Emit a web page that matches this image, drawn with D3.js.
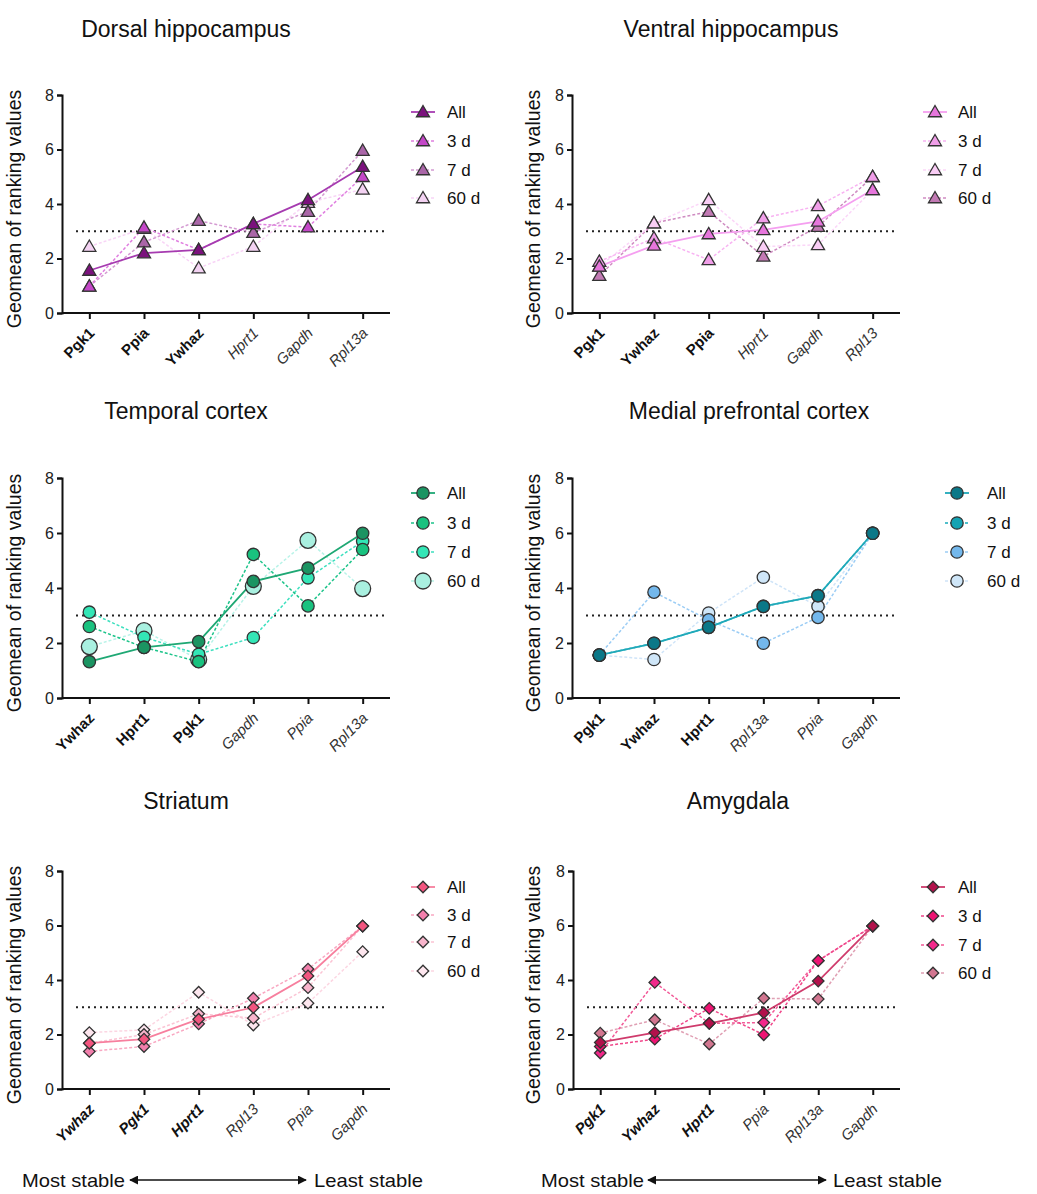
<!DOCTYPE html>
<html><head><meta charset="utf-8">
<script src="https://cdn.jsdelivr.net/npm/d3@7"></script>
<style>body{margin:0;background:#fff}svg{display:block;font-family:Arial,"Liberation Sans",sans-serif}</style>
</head><body>
<svg id="c" width="1037" height="1194"></svg>
<script>
// ---------- data ----------
const seriesNames = ["All", "3 d", "7 d", "60 d"];
const yTicks = [0, 2, 4, 6, 8];
const threshold = 3;

const dorsalCats = ["Pgk1", "Ppia", "Ywhaz", "Hprt1", "Gapdh", "Rpl13a"];
const dorsalAll = [1.56, 2.20, 2.32, 3.27, 4.15, 5.37];
const dorsal3d  = [0.98, 3.14, 2.32, 3.27, 3.15, 5.00];
const dorsal7d  = [0.98, 2.60, 3.39, 2.95, 3.72, 5.96];
const dorsal60d = [2.44, 3.10, 1.65, 2.44, 4.05, 4.54];

const ventralCats = ["Pgk1", "Ywhaz", "Ppia", "Hprt1", "Gapdh", "Rpl13"];
const ventralAll = [1.71, 2.48, 2.90, 3.05, 3.36, 4.52];
const ventral3d  = [1.89, 2.75, 1.95, 3.48, 3.93, 5.00];
const ventral7d  = [1.71, 3.30, 4.15, 2.44, 2.50, 4.52];
const ventral60d = [1.37, 3.30, 3.72, 2.08, 3.17, 5.00];

const temporalCats = ["Ywhaz", "Hprt1", "Pgk1", "Gapdh", "Ppia", "Rpl13a"];
const temporalAll = [1.32, 1.84, 2.05, 4.24, 4.72, 5.99];
const temporal3d  = [2.60, 1.84, 1.32, 5.22, 3.35, 5.40];
const temporal7d  = [3.12, 2.21, 1.59, 2.20, 4.37, 5.70];
const temporal60d = [1.87, 2.45, 1.40, 4.06, 5.73, 3.98];

const mpfcCats = ["Pgk1", "Ywhaz", "Hprt1", "Rpl13a", "Ppia", "Gapdh"];
const mpfcAll = [1.56, 1.99, 2.57, 3.33, 3.72, 5.99];
const mpfc3d  = [1.56, 1.99, 2.57, 3.33, 3.72, 5.99];
const mpfc7d  = [1.56, 3.85, 2.84, 1.99, 2.93, 5.99];
const mpfc60d = [1.56, 1.40, 3.09, 4.39, 3.33, 5.99];

const striatumCats = ["Ywhaz", "Pgk1", "Hprt1", "Rpl13", "Ppia", "Gapdh"];
const striatumAll = [1.68, 1.83, 2.56, 2.99, 4.15, 5.98];
const striatum3d  = [1.38, 1.56, 2.39, 3.33, 4.40, 5.98];
const striatum7d  = [1.68, 2.00, 2.76, 2.60, 3.72, 5.98];
const striatum60d = [2.07, 2.17, 3.55, 2.35, 3.15, 5.04];

const amygdalaCats = ["Pgk1", "Ywhaz", "Hprt1", "Ppia", "Rpl13a", "Gapdh"];
const amygdalaAll = [1.71, 2.07, 2.41, 2.80, 3.96, 5.98];
const amygdala3d  = [1.56, 1.83, 2.96, 1.99, 4.71, 5.98];
const amygdala7d  = [1.32, 3.91, 2.41, 2.44, 4.71, 5.98];
const amygdala60d = [2.05, 2.54, 1.65, 3.33, 3.30, 5.98];

// ---------- panel configs ----------
const panels = [
  {title:"Dorsal hippocampus", cats:dorsalCats, data:[dorsalAll,dorsal3d,dorsal7d,dorsal60d],
   shape:"tri", fills:["#7b127d","#c447c8","#aa66a8","#f3d2f2"], lines:["#a63bb0","#e07fe0","#d49ad2","#f8d4f6"],
   L:62,R:390,Y0:313,Y8:95, tx:186, ty:37, lx:423, ltx:447, ly:[112,141,170,198], ylab:21, row:0},
  {title:"Ventral hippocampus", cats:ventralCats, data:[ventralAll,ventral3d,ventral7d,ventral60d],
   shape:"tri", fills:["#e676dc","#f09ee8","#f9cdf5","#c27ab4"], lines:["#f59ff0","#f8b3f2","#fbd6f8","#cf8cc2"],
   L:572,R:900,Y0:313,Y8:95, tx:731, ty:37, lx:935, ltx:958, ly:[112,141,170,198], ylab:540, row:0},
  {title:"Temporal cortex", cats:temporalCats, data:[temporalAll,temporal3d,temporal7d,temporal60d],
   shape:"circ", fills:["#1b9462","#19c27f","#33e6b6","#a9f0e0"], lines:["#1fa874","#1dc48a","#3ee0bf","#b8f3e8"],
   L:62,R:390,Y0:698,Y8:478, tx:186, ty:419, lx:423, ltx:447, ly:[493,523,552,581], ylab:21, row:1},
  {title:"Medial prefrontal cortex", cats:mpfcCats, data:[mpfcAll,mpfc3d,mpfc7d,mpfc60d],
   shape:"circ", fills:["#0b7888","#14a3b3","#74b8ec","#cfe6f8"], lines:["#1fa9b9","#18aabb","#9ccdf5","#cfe4f8"],
   L:572,R:900,Y0:698,Y8:478, tx:749, ty:419, lx:957, ltx:987, ly:[493,523,552,581], ylab:540, row:1},
  {title:"Striatum", cats:striatumCats, data:[striatumAll,striatum3d,striatum7d,striatum60d],
   shape:"dia", fills:["#f2557f","#f27fac","#f8b5cc","#fde6ee"], lines:["#f77f9e","#f9a8c2","#fbc4d4","#fcd6e2"],
   L:62,R:390,Y0:1089,Y8:871, tx:186, ty:809, lx:423, ltx:447, ly:[887,915,942,971], ylab:21, row:2},
  {title:"Amygdala", cats:amygdalaCats, data:[amygdalaAll,amygdala3d,amygdala7d,amygdala60d],
   shape:"dia", fills:["#b2114b","#ee1473","#f2278a","#d27690"], lines:["#cf3b6c","#f0468a","#f25a98","#e0a0b4"],
   L:573,R:900,Y0:1089,Y8:871, tx:738, ty:809, lx:933, ltx:958, ly:[887,916,945,973], ylab:540, row:2}
];

const svg = d3.select("#c");

function symbolFor(shape, big){
  if (shape === "tri") return d3.symbol().type(d3.symbolTriangle).size(74)();
  if (shape === "circ") return d3.symbol().type(d3.symbolCircle).size(big ? 200 : 120)();
  return d3.symbol().type(d3.symbolSquare).size(66)();
}
function symTransform(shape, cx, cy){
  if (shape === "tri") return `translate(${cx},${cy + 1})`;
  if (shape === "dia") return `translate(${cx},${cy}) rotate(45)`;
  return `translate(${cx},${cy})`;
}

panels.forEach(p => {
  const g = svg.append("g");
  const x = d3.scalePoint().domain(p.cats).range([p.L, p.R]).padding(0.5);
  const y = d3.scaleLinear().domain([0, 8]).range([p.Y0, p.Y8]);

  // title
  g.append("text").attr("x", p.tx).attr("y", p.ty).attr("text-anchor", "middle")
    .attr("font-size", 23).attr("fill", "#111").text(p.title);

  // y axis label
  g.append("text").attr("transform", `translate(${p.ylab},${(p.Y0 + p.Y8) / 2 + 5}) rotate(-90)`)
    .attr("text-anchor", "middle").attr("font-size", 19.5).attr("fill", "#111")
    .text("Geomean of ranking values");

  // y axis
  const ya = g.append("g").attr("transform", `translate(${p.L},0)`)
    .call(d3.axisLeft(y).tickValues(yTicks).tickSize(5).tickPadding(3).tickFormat(d3.format("d")));
  ya.select(".domain").attr("stroke", "#111").attr("stroke-width", 2);
  ya.selectAll(".tick line").attr("stroke", "#111").attr("stroke-width", 2);
  ya.selectAll(".tick text").attr("font-size", 16).attr("fill", "#222").attr("font-family", "Arial, Liberation Sans, sans-serif");

  // x axis
  const xa = g.append("g").attr("transform", `translate(0,${p.Y0})`)
    .call(d3.axisBottom(x).tickSize(6).tickSizeOuter(0));
  xa.select(".domain").attr("stroke", "#111").attr("stroke-width", 2)
    .attr("d", `M${p.L},0H${p.R}`);
  xa.selectAll(".tick line").attr("stroke", "#111").attr("stroke-width", 2);
  xa.selectAll(".tick text").remove();
  p.cats.forEach((c, i) => {
    const bold = i < 3;
    g.append("text")
      .attr("transform", `translate(${x(c) + 6},${p.Y0 + 21}) rotate(-45)`)
      .attr("text-anchor", "end").attr("font-size", 15)
      .attr("font-weight", bold ? "bold" : "normal")
      .attr("font-style", (bold && p.row < 2) ? "normal" : "italic")
      .attr("fill", bold ? "#111" : "#333")
      .text(c);
  });

  // threshold dotted line
  g.append("line").attr("x1", p.L + 14).attr("x2", p.R - 5)
    .attr("y1", y(threshold)).attr("y2", y(threshold))
    .attr("stroke", "#222").attr("stroke-width", 2.2).attr("stroke-dasharray", "2,4");

  // series lines (draw 60d first, All last)
  const order = [3, 2, 1, 0];
  order.forEach(si => {
    const vals = p.data[si];
    const line = d3.line().x((d, i) => x(p.cats[i])).y(d => y(d));
    g.append("path").datum(vals).attr("d", line).attr("fill", "none")
      .attr("stroke", p.lines[si]).attr("stroke-width", si === 0 ? 1.8 : 1.5)
      .attr("stroke-dasharray", si === 0 ? null : "3,2");
  });
  order.forEach(si => {
    const vals = p.data[si];
    const big = p.shape === "circ" && si === 3 && p.title === "Temporal cortex";
    g.selectAll(null).data(vals).enter().append("path")
      .attr("d", symbolFor(p.shape, big))
      .attr("transform", (d, i) => symTransform(p.shape, x(p.cats[i]), y(d)))
      .attr("fill", p.fills[si]).attr("stroke", "#333").attr("stroke-width", 1.3);
  });

  // legend
  seriesNames.forEach((s, si) => {
    const ly = p.ly[si];
    g.append("line").attr("x1", p.lx - 12).attr("x2", p.lx + 12).attr("y1", ly).attr("y2", ly)
      .attr("stroke", p.lines[si]).attr("stroke-width", si === 0 ? 1.8 : 1.5)
      .attr("stroke-dasharray", si === 0 ? null : "3,2");
    const big = p.shape === "circ" && si === 3 && p.title === "Temporal cortex";
    g.append("path").attr("d", symbolFor(p.shape, big))
      .attr("transform", symTransform(p.shape, p.lx, ly))
      .attr("fill", p.fills[si]).attr("stroke", "#333").attr("stroke-width", 1.3);
    g.append("text").attr("x", p.ltx).attr("y", ly + 6).attr("font-size", 17).attr("fill", "#111").text(s);
  });
});

// bottom stability arrows
const arrows = [
  {mx: 22, a1: 130, a2: 306, lx: 314},
  {mx: 541, a1: 648, a2: 826, lx: 833}
];
const defs = svg.append("defs");
defs.append("marker").attr("id", "ah").attr("viewBox", "0 0 10 10").attr("refX", 9).attr("refY", 5)
  .attr("markerWidth", 9).attr("markerHeight", 9).attr("orient", "auto-start-reverse")
  .attr("markerUnits", "userSpaceOnUse")
  .append("path").attr("d", "M0,0L10,5L0,10Z").attr("fill", "#111");
arrows.forEach(a => {
  svg.append("text").attr("x", a.mx).attr("y", 1187).attr("font-size", 19).attr("fill", "#111")
    .attr("textLength", 103).attr("lengthAdjust", "spacingAndGlyphs").text("Most stable");
  svg.append("line").attr("x1", a.a1).attr("x2", a.a2).attr("y1", 1180).attr("y2", 1180)
    .attr("stroke", "#111").attr("stroke-width", 1.5)
    .attr("marker-start", "url(#ah)").attr("marker-end", "url(#ah)");
  svg.append("text").attr("x", a.lx).attr("y", 1187).attr("font-size", 19).attr("fill", "#111")
    .attr("textLength", 109).attr("lengthAdjust", "spacingAndGlyphs").text("Least stable");
});
</script>
</body></html>
